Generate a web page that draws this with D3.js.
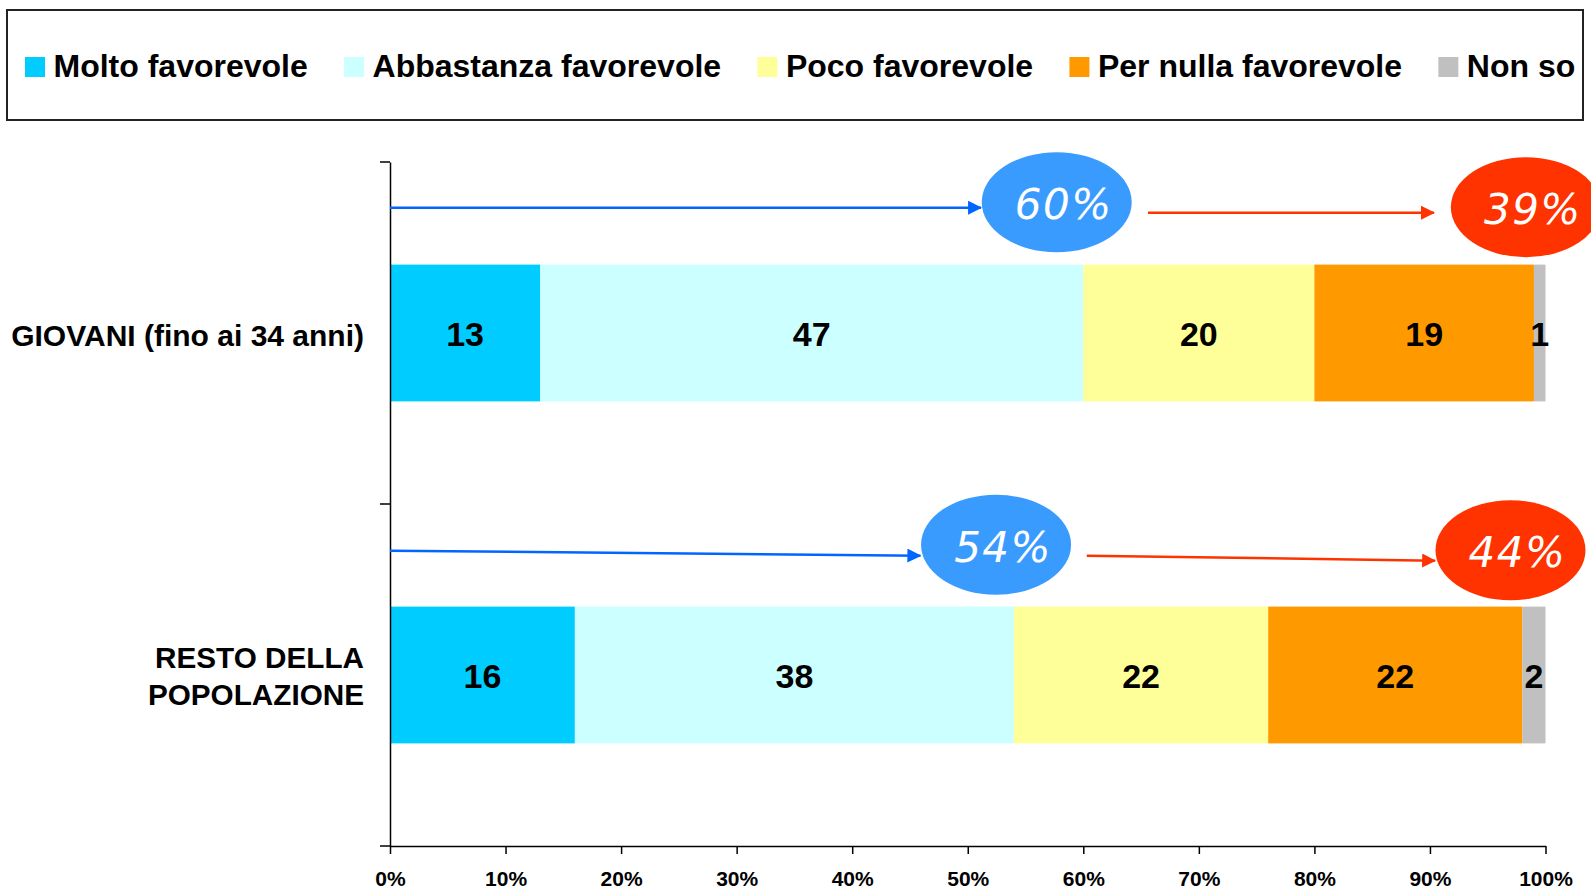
<!DOCTYPE html>
<html>
<head>
<meta charset="utf-8">
<script src="https://cdn.jsdelivr.net/npm/d3@7"></script>
<style>
  html, body { margin: 0; padding: 0; background: #fff; }
  svg { display: block; }
  text { font-family: "Liberation Sans", Arial, sans-serif; font-weight: bold; fill: #000; }
</style>
</head>
<body>
<svg id="chart" width="1591" height="889"></svg>
<script>
// ---------------- DATA ----------------
const categories = ["GIOVANI (fino ai 34 anni)", "RESTO DELLA\nPOPOLAZIONE"];
const seriesNames = ["Molto favorevole", "Abbastanza favorevole", "Poco favorevole", "Per nulla favorevole", "Non so"];
const molto      = [13, 16];
const abbastanza = [47, 38];
const poco       = [20, 22];
const perNulla   = [19, 22];
const nonSo      = [1, 2];
const favorevoli = [60, 54];   // blue bubbles
const contrari   = [39, 44];   // red bubbles
const xTicks = [0, 10, 20, 30, 40, 50, 60, 70, 80, 90, 100];

// ---------------- STYLE / LAYOUT ----------------
const colors = ["#00CCFF", "#CCFFFF", "#FFFF99", "#FF9900", "#C0C0C0"];
const plot = { left: 390, right: 1545.5, top: 162, bottom: 846 };
// annotation placement (x in axis units, dy relative to band centre)
const annotLayout = [
  { blueEnd: 51.15, blueCx: 57.7, redStart: 65.6, redEnd: 90.35, redCx: 98.3,
    bY1: -125.3, bY2: -125.3, bCy: -130.8, rY1: -120.3, rY2: -120.3, rCy: -125.8 },
  { blueEnd: 45.9, blueCx: 52.45, redStart: 60.3, redEnd: 90.45, redCx: 96.97,
    bY1: -124.3, bY2: -119.3, bCy: -130.3, rY1: -119.3, rY2: -114.3, rCy: -124.8 }
];

const svg = d3.select("#chart");
const series = [molto, abbastanza, poco, perNulla, nonSo];

const x = d3.scaleLinear().domain([0, 100]).range([plot.left, plot.right]);
const y = d3.scaleBand().domain(categories).range([plot.top, plot.bottom]).paddingInner(0).paddingOuter(0);
const barH = y.step() * 0.4;
const barOff = y.step() * 0.3;

// stacked data
const rows = categories.map((c, i) => {
  const o = { cat: c };
  seriesNames.forEach((s, j) => o[s] = series[j][i]);
  return o;
});
const stack = d3.stack().keys(seriesNames)(rows);

// defs: arrow markers
const defs = svg.append("defs");
[["blueHead", "#0066FF"], ["redHead", "#FF3300"]].forEach(([id, col]) => {
  defs.append("marker").attr("id", id)
    .attr("markerUnits", "userSpaceOnUse")
    .attr("viewBox", "0 0 14 14")
    .attr("markerWidth", 14).attr("markerHeight", 14)
    .attr("refX", 13).attr("refY", 7).attr("orient", "auto")
    .append("path").attr("d", "M0,0 L14,7 L0,14 z").attr("fill", col);
});

// ---------------- LEGEND ----------------
svg.append("rect").attr("x", 7).attr("y", 10).attr("width", 1576).attr("height", 110)
  .attr("fill", "#fff").attr("stroke", "#222").attr("stroke-width", 2);
let lx = 25;
seriesNames.forEach((s, j) => {
  const g = svg.append("g");
  g.append("rect").attr("x", lx).attr("y", 57).attr("width", 20).attr("height", 20).attr("fill", colors[j]);
  const t = g.append("text").attr("x", lx + 28.5).attr("y", 77).attr("font-size", 32).text(s);
  lx += 28.5 + t.node().getComputedTextLength() + 36.3;
});

// ---------------- BARS ----------------
const layers = svg.append("g").selectAll("g").data(stack).join("g")
  .attr("fill", (d, j) => colors[j]);
layers.selectAll("rect").data(d => d).join("rect")
  .attr("x", d => x(d[0]))
  .attr("width", d => x(d[1]) - x(d[0]))
  .attr("y", d => y(d.data.cat) + barOff)
  .attr("height", barH);

// value labels
const labG = svg.append("g");
stack.forEach(layer => {
  layer.forEach(d => {
    labG.append("text")
      .attr("x", (x(d[0]) + x(d[1])) / 2)
      .attr("y", y(d.data.cat) + y.step() / 2 + 12.5)
      .attr("text-anchor", "middle")
      .attr("font-size", 34)
      .text(d[1] - d[0]);
  });
});

// ---------------- AXES ----------------
const xAxis = svg.append("g").attr("transform", `translate(0,${plot.bottom})`)
  .call(d3.axisBottom(x).tickValues(xTicks).tickFormat(d => d + "%").tickSize(8).tickSizeOuter(0));
xAxis.select(".domain").attr("stroke", "#000").attr("stroke-width", 1.5);
xAxis.selectAll(".tick line").attr("stroke", "#000").attr("stroke-width", 1.5);
xAxis.selectAll(".tick text")
  .attr("font-size", 21).attr("font-family", "'Liberation Sans', Arial, sans-serif")
  .attr("font-weight", "bold").attr("fill", "#000")
  .attr("dy", null).attr("y", 40);

const yAxis = svg.append("g").attr("transform", `translate(${plot.left},0)`)
  .call(d3.axisLeft(y).tickSize(0).tickFormat(""));
yAxis.select(".domain").attr("stroke", "#000").attr("stroke-width", 1.5);
yAxis.selectAll(".tick").remove();
const bounds = categories.map(c => y(c)).concat([plot.bottom]);
svg.append("g").selectAll("line").data(bounds).join("line")
  .attr("x1", plot.left - 10).attr("x2", plot.left)
  .attr("y1", d => d).attr("y2", d => d)
  .attr("stroke", "#000").attr("stroke-width", 1.5);

// category labels
categories.forEach(c => {
  const lines = c.split("\n");
  const cy = y(c) + y.step() / 2;
  lines.forEach((ln, i) => {
    svg.append("text")
      .attr("x", 364)
      .attr("y", cy + 13 - (lines.length - 1) * 1.5 + (i - (lines.length - 1) / 2) * 37)
      .attr("text-anchor", "end")
      .attr("font-size", lines.length > 1 ? 29.7 : 30)
      .text(ln);
  });
});

// ---------------- ANNOTATIONS ----------------
function bubbleText(cx, cy, label) {
  svg.append("text").attr("x", cx + 7).attr("y", cy + 17)
    .attr("text-anchor", "middle")
    .style("font-family", "'DejaVu Sans', Verdana, sans-serif")
    .style("font-style", "italic").style("font-weight", "normal")
    .style("letter-spacing", "1.5px")
    .style("fill", "#fff").attr("font-size", 42)
    .text(label);
}
categories.forEach((c, i) => {
  const L = annotLayout[i];
  const cy = y(c) + y.step() / 2;
  svg.append("line")
    .attr("x1", x(0)).attr("y1", cy + L.bY1)
    .attr("x2", x(L.blueEnd)).attr("y2", cy + L.bY2)
    .attr("stroke", "#0066FF").attr("stroke-width", 2.5)
    .attr("marker-end", "url(#blueHead)");
  svg.append("line")
    .attr("x1", x(L.redStart)).attr("y1", cy + L.rY1)
    .attr("x2", x(L.redEnd)).attr("y2", cy + L.rY2)
    .attr("stroke", "#FF3300").attr("stroke-width", 2.5)
    .attr("marker-end", "url(#redHead)");

  svg.append("ellipse").attr("cx", x(L.blueCx)).attr("cy", cy + L.bCy)
    .attr("rx", 75).attr("ry", 50).attr("fill", "#3A9BFF");
  bubbleText(x(L.blueCx), cy + L.bCy, favorevoli[i] + "%");

  svg.append("ellipse").attr("cx", x(L.redCx)).attr("cy", cy + L.rCy)
    .attr("rx", 75).attr("ry", 50).attr("fill", "#FF3300");
  bubbleText(x(L.redCx), cy + L.rCy, contrari[i] + "%");
});
</script>
</body>
</html>
